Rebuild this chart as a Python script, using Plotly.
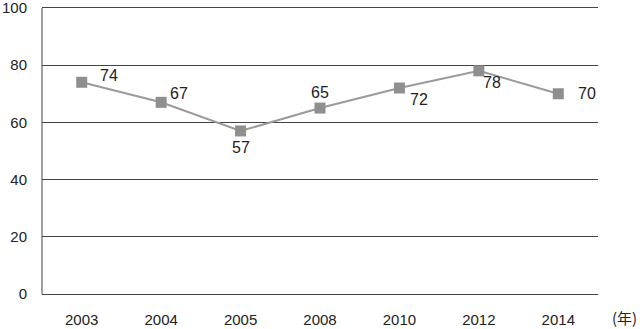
import plotly.graph_objects as go

years = ["2003", "2004", "2005", "2008", "2010", "2012", "2014"]
values = [74, 67, 57, 65, 72, 78, 70]
# label offsets in pixels (dx right, dy up) relative to each marker
label_dx = [27, 18, 0, 0, 20, 13, 29]
label_dy = [7, 9, -17, 16, -11, -12, 0]
y_ticks = [0, 20, 40, 60, 80, 100]

fig = go.Figure()
fig.add_trace(go.Scatter(
    x=years, y=values, mode="lines+markers",
    line=dict(color="#9a9a9a", width=2),
    marker=dict(symbol="square", size=11, color="#8f8f8f"),
    cliponaxis=False, showlegend=False,
))

annotations = []
for i, (v, dx, dy) in enumerate(zip(values, label_dx, label_dy)):
    annotations.append(dict(x=i, y=v, xref="x", yref="y", text=str(v),
                            showarrow=False, xshift=dx, yshift=dy,
                            font=dict(size=16, color="#222")))
annotations.append(dict(text="(年)", xref="paper", yref="paper", x=1.0, y=0,
                        xanchor="right", yanchor="middle", xshift=41, yshift=-20,
                        showarrow=False,
                        font=dict(size=15, color="#222",
                                  family="Noto Sans CJK SC, sans-serif")))

fig.update_layout(
    width=640, height=329,
    margin=dict(l=42, r=42, t=5, b=32),
    paper_bgcolor="white", plot_bgcolor="white",
    font=dict(family="Liberation Sans, Arial, sans-serif", size=15, color="#222"),
    xaxis=dict(type="category", range=[-0.5, 6.5], showgrid=False,
               showline=False, zeroline=False, ticks="", ticklabelstandoff=12,
               automargin=False),
    yaxis=dict(range=[-1, 101], tickvals=y_ticks, showgrid=True,
               gridcolor="#444", gridwidth=1, showline=False,
               zeroline=False, ticks="", ticklabelstandoff=14,
               ticklabeloverflow="allow", automargin=False),
    shapes=[dict(type="line", xref="paper", yref="y", x0=0, x1=0, y0=0, y1=100,
                 line=dict(color="#444", width=1))],
    annotations=annotations,
)
fig.write_html("out.html")
